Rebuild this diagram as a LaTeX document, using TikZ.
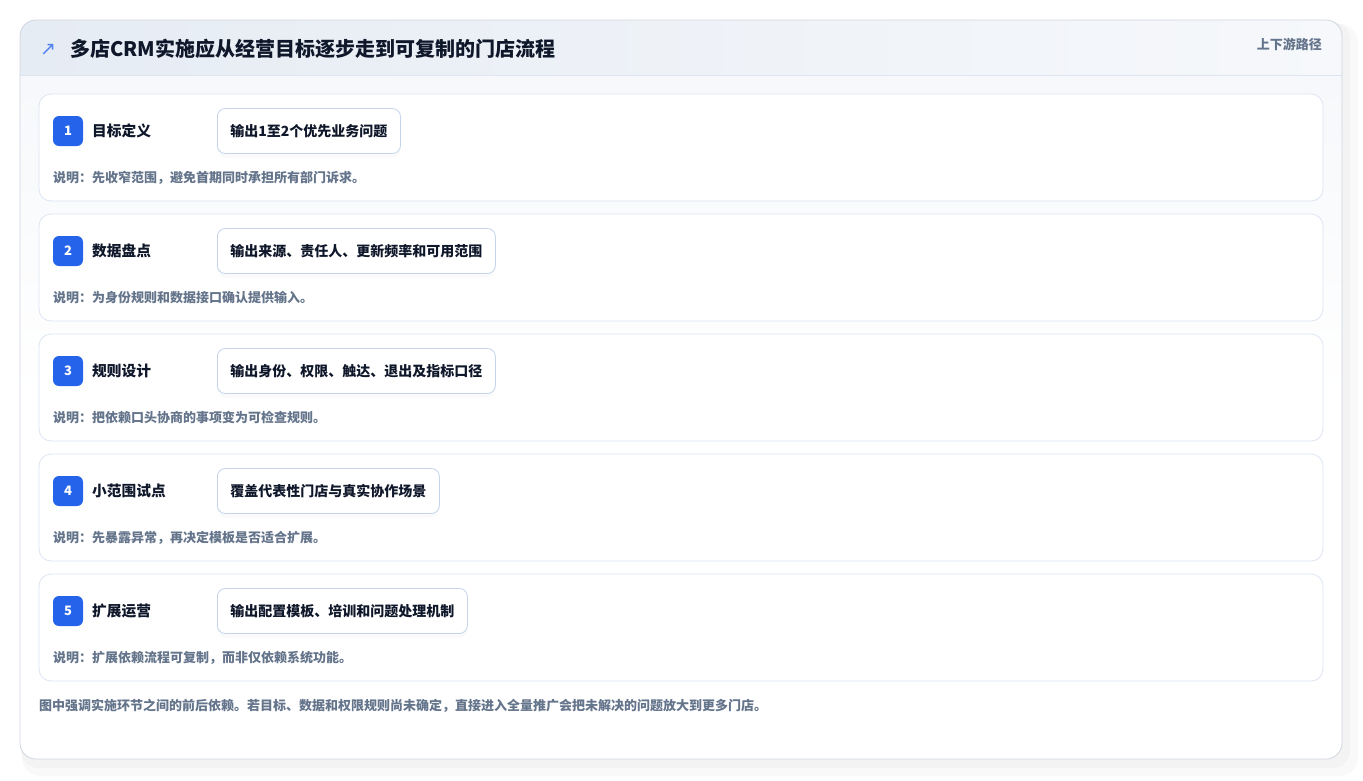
\documentclass[tikz,border=0pt]{standalone}
\usepackage{fontspec}
\setmainfont{Noto Sans CJK SC}
\newfontfamily\symfont{DejaVu Sans}
\usetikzlibrary{shadows}

\definecolor{cardline}{HTML}{CFD6E0}
\definecolor{rowline}{HTML}{DCE5F1}
\definecolor{boxline}{HTML}{C3D4EC}
\definecolor{badgeblue}{HTML}{2563EB}
\definecolor{inkdark}{HTML}{0F172A}
\definecolor{inkgray}{HTML}{64748B}
\definecolor{headleft}{HTML}{E6ECF4}
\definecolor{headright}{HTML}{F6F8FB}

\tikzset{
  rowcard/.style={draw=rowline, fill=white, rounded corners=12pt, line width=0.8pt},
  badge/.style={fill=badgeblue, rounded corners=6pt, minimum width=30pt, minimum height=30pt,
    inner sep=0pt, text=white, font=\bfseries\fontsize{13}{13}\selectfont},
  steplabel/.style={anchor=west, inner sep=0pt, text=inkdark, font=\bfseries\fontsize{14.7}{15}\selectfont},
  outbox/.style={anchor=west, draw=boxline, fill=white, rounded corners=8pt, line width=0.8pt,
    minimum height=45pt, inner xsep=13pt, text=inkdark, font=\bfseries\fontsize{14}{14}\selectfont,
    drop shadow={opacity=0.04, shadow xshift=0pt, shadow yshift=-4pt}},
  notetext/.style={anchor=west, inner sep=0pt, text=inkgray, font=\bfseries\fontsize{13}{13}\selectfont}
}

\begin{document}
\begin{tikzpicture}[x=1pt, y=-1pt]
  \useasboundingbox (0, 0) rectangle (1363, 780);
  \fill[white] (0, 0) rectangle (1363, 780);

  % outer card
  \fill[black, opacity=0.025, rounded corners=18pt] (22, 24) rectangle (1358, 776);
  \fill[black, opacity=0.025, rounded corners=17pt] (21, 22) rectangle (1350, 768);
  \fill[white, rounded corners=16pt] (20, 20) rectangle (1342, 759);
  \begin{scope}
    \clip[rounded corners=16pt] (20, 20) rectangle (1342, 759);
    \shade[left color=headleft, right color=headright] (20, 20) rectangle (1342, 75);
    \shade[top color=headright, bottom color=white] (20, 75) rectangle (1342, 400);
  \end{scope}
  \draw[rowline, line width=0.8pt] (20, 75) -- (1342, 75);
  \draw[cardline, line width=0.8pt, rounded corners=16pt] (20, 20) rectangle (1342, 759);

  % header
  \node[anchor=west, inner sep=0pt, text=badgeblue!80!white, font=\symfont\fontsize{19}{19}\selectfont] (icon) at (40, 50) {↗};
  \node[anchor=west, inner sep=0pt, text=inkdark, font=\bfseries\fontsize{20}{20}\selectfont] (title) at (70, 49)
    {多店CRM实施应从经营目标逐步走到可复制的门店流程};
  \node[anchor=east, inner sep=0pt, text=inkgray, font=\bfseries\fontsize{13}{13}\selectfont] (tag) at (1322, 44) {上下游路径};

  % steps
  \foreach \i/\lab/\out/\note in {
    1/目标定义/输出1至2个优先业务问题/说明：先收窄范围，避免首期同时承担所有部门诉求。,
    2/数据盘点/输出来源、责任人、更新频率和可用范围/说明：为身份规则和数据接口确认提供输入。,
    3/规则设计/输出身份、权限、触达、退出及指标口径/说明：把依赖口头协商的事项变为可检查规则。,
    4/小范围试点/覆盖代表性门店与真实协作场景/说明：先暴露异常，再决定模板是否适合扩展。,
    5/扩展运营/输出配置模板、培训和问题处理机制/说明：扩展依赖流程可复制，而非仅依赖系统功能。}
  {
    \pgfmathsetmacro{\top}{94 + 120*(\i-1)}
    \draw[rowcard] (39, \top) rectangle (1323, \top+107);
    \node[badge] (num\i) at (68, \top+37) {\i};
    \node[steplabel] (step\i) at (92, \top+37) {\lab};
    \node[outbox] (out\i) at (217, \top+37) {\out};
    \node[notetext] (note\i) at (53, \top+84) {\note};
  }

  % footer
  \node[notetext] (foot) at (39, 706)
    {图中强调实施环节之间的前后依赖。若目标、数据和权限规则尚未确定，直接进入全量推广会把未解决的问题放大到更多门店。};
\end{tikzpicture}
\end{document}
